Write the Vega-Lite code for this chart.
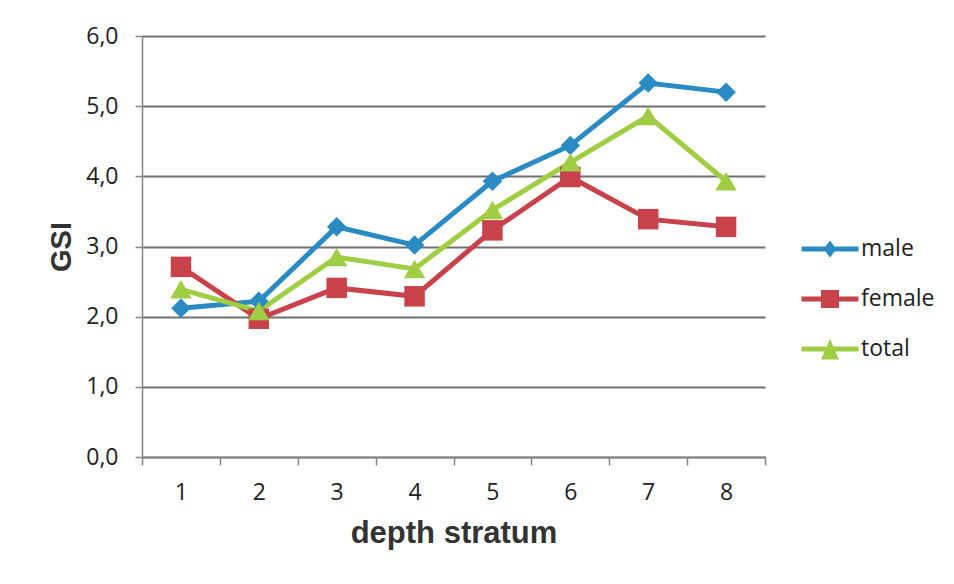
{
  "$schema": "https://vega.github.io/schema/vega-lite/v6.json",
  "width": 623,
  "height": 421,
  "padding": {"left": 47, "top": 25, "right": 5, "bottom": 5},
  "background": "white",
  "config": {"view": {"stroke": null}},
  "data": {"values": [
    {"stratum": "1", "sex": "male", "gsi": 2.12},
    {"stratum": "2", "sex": "male", "gsi": 2.22},
    {"stratum": "3", "sex": "male", "gsi": 3.28},
    {"stratum": "4", "sex": "male", "gsi": 3.02},
    {"stratum": "5", "sex": "male", "gsi": 3.93},
    {"stratum": "6", "sex": "male", "gsi": 4.44},
    {"stratum": "7", "sex": "male", "gsi": 5.33},
    {"stratum": "8", "sex": "male", "gsi": 5.20},
    {"stratum": "1", "sex": "female", "gsi": 2.71},
    {"stratum": "2", "sex": "female", "gsi": 1.97},
    {"stratum": "3", "sex": "female", "gsi": 2.41},
    {"stratum": "4", "sex": "female", "gsi": 2.29},
    {"stratum": "5", "sex": "female", "gsi": 3.23},
    {"stratum": "6", "sex": "female", "gsi": 3.99},
    {"stratum": "7", "sex": "female", "gsi": 3.39},
    {"stratum": "8", "sex": "female", "gsi": 3.28},
    {"stratum": "1", "sex": "total", "gsi": 2.39},
    {"stratum": "2", "sex": "total", "gsi": 2.08},
    {"stratum": "3", "sex": "total", "gsi": 2.85},
    {"stratum": "4", "sex": "total", "gsi": 2.68},
    {"stratum": "5", "sex": "total", "gsi": 3.52},
    {"stratum": "6", "sex": "total", "gsi": 4.20},
    {"stratum": "7", "sex": "total", "gsi": 4.86},
    {"stratum": "8", "sex": "total", "gsi": 3.93}
  ]},
  "encoding": {
    "x": {
      "field": "stratum", "type": "ordinal",
      "scale": {"type": "band", "paddingInner": 0, "paddingOuter": 0},
      "axis": {
        "title": "depth stratum", "labelAngle": 0, "tickBand": "extent",
        "domainColor": "#858585", "domainWidth": 1.5, "tickColor": "#858585", "tickWidth": 1.5, "tickSize": 8,
        "labelFont": "Open Sans", "labelFontSize": 23, "labelColor": "#222222", "labelPadding": 16,
        "titleFont": "Liberation Sans", "titleFontSize": 31, "titleFontWeight": "bold", "titleColor": "#333333", "titlePadding": 14,
        "grid": false
      }
    },
    "y": {
      "field": "gsi", "type": "quantitative",
      "scale": {"domain": [0, 6], "nice": false},
      "axis": {
        "title": "GSI", "values": [0, 1, 2, 3, 4, 5, 6],
        "labelExpr": "replace(format(datum.value, '.1f'), '.', ',')",
        "domainColor": "#858585", "domainWidth": 1.5, "tickColor": "#858585", "tickWidth": 1.5, "tickSize": 7,
        "gridColor": "#707070", "gridWidth": 1.8,
        "labelFont": "Open Sans", "labelFontSize": 23, "labelColor": "#222222", "labelPadding": 17,
        "titleFont": "Liberation Sans", "titleFontSize": 29, "titleFontWeight": "bold", "titleColor": "#333333", "titlePadding": 9
      }
    },
    "color": {
      "field": "sex", "type": "nominal",
      "scale": {"domain": ["male", "female", "total"], "range": ["#2a8ac4", "#c8424c", "#9fcd43"]},
      "legend": {
        "title": null, "orient": "none", "legendX": 663, "legendY": 188, "padding": 0,
        "symbolSize": 2500, "rowPadding": 13, "labelOffset": 6,
        "labelFont": "Open Sans", "labelFontSize": 23, "labelColor": "#222222",
        "encode": {"symbols": {"update": {
          "shape": {"signal": "datum.value == 'male' ? 'M-1.14,-0.1H-0.18L0,-0.34L0.18,-0.1H1.14V0.1H0.18L0,0.34L-0.18,0.1H-1.14Z' : datum.value == 'female' ? 'M-1.14,-0.1H-0.36V-0.36H0.36V-0.1H1.14V0.1H0.36V0.36H-0.36V0.1H-1.14Z' : 'M-1.14,-0.1H-0.13L0,-0.42L0.13,-0.1H1.14V0.1H0.22L0.36,0.42H-0.36L-0.22,0.1H-1.14Z'"},
          "size": {"value": 2500},
          "fill": {"scale": "color", "field": "value"},
          "fillOpacity": {"value": 1},
          "opacity": {"value": 1},
          "strokeWidth": {"value": 0}
        }}}
      }
    }
  },
  "layer": [
    {
      "mark": {"type": "line", "strokeWidth": 5}
    },
    {
      "mark": {"type": "point", "filled": true, "opacity": 1},
      "encoding": {
        "shape": {
          "condition": [
            {"test": "datum.sex == 'male'", "value": "diamond"},
            {"test": "datum.sex == 'female'", "value": "square"}
          ],
          "value": "triangle-up"
        },
        "size": {
          "condition": [
            {"test": "datum.sex == 'male'", "value": 380},
            {"test": "datum.sex == 'female'", "value": 420}
          ],
          "value": 460
        }
      }
    }
  ]
}
